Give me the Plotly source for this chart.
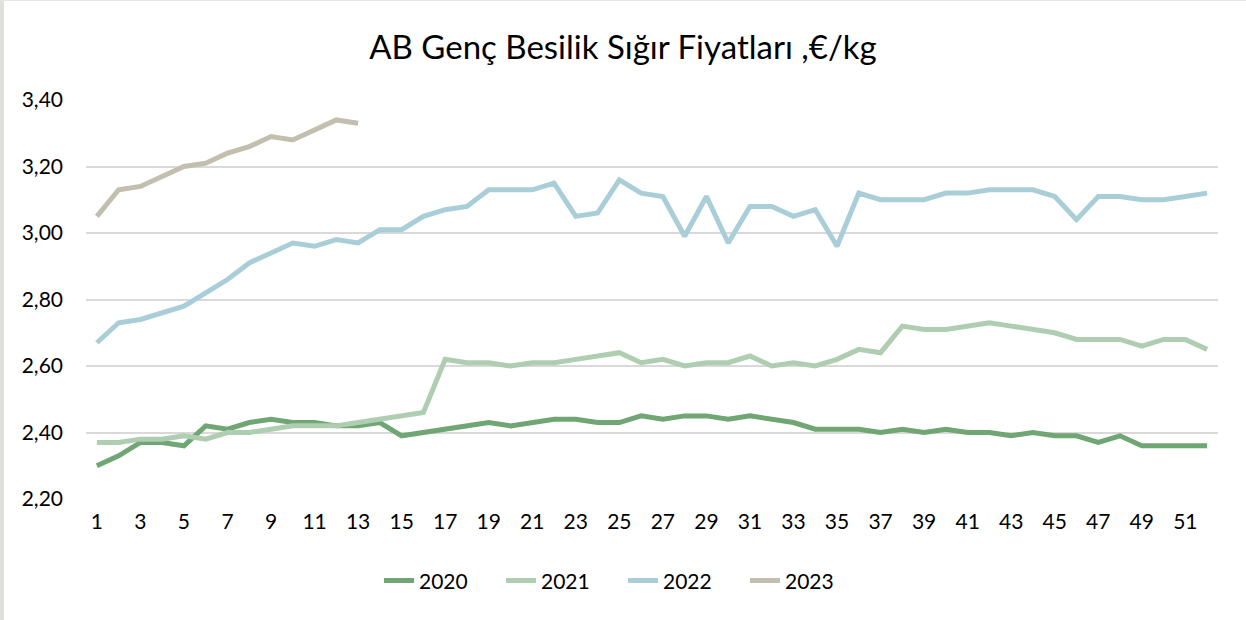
import plotly.graph_objects as go

# Weekly EU young cattle prices, €/kg
weeks = list(range(1, 53))

price_2020 = [2.30, 2.33, 2.37, 2.37, 2.36, 2.42, 2.41, 2.43, 2.44, 2.43,
              2.43, 2.42, 2.42, 2.43, 2.39, 2.40, 2.41, 2.42, 2.43, 2.42,
              2.43, 2.44, 2.44, 2.43, 2.43, 2.45, 2.44, 2.45, 2.45, 2.44,
              2.45, 2.44, 2.43, 2.41, 2.41, 2.41, 2.40, 2.41, 2.40, 2.41,
              2.40, 2.40, 2.39, 2.40, 2.39, 2.39, 2.37, 2.39, 2.36, 2.36,
              2.36, 2.36]

price_2021 = [2.37, 2.37, 2.38, 2.38, 2.39, 2.38, 2.40, 2.40, 2.41, 2.42,
              2.42, 2.42, 2.43, 2.44, 2.45, 2.46, 2.62, 2.61, 2.61, 2.60,
              2.61, 2.61, 2.62, 2.63, 2.64, 2.61, 2.62, 2.60, 2.61, 2.61,
              2.63, 2.60, 2.61, 2.60, 2.62, 2.65, 2.64, 2.72, 2.71, 2.71,
              2.72, 2.73, 2.72, 2.71, 2.70, 2.68, 2.68, 2.68, 2.66, 2.68,
              2.68, 2.65]

price_2022 = [2.67, 2.73, 2.74, 2.76, 2.78, 2.82, 2.86, 2.91, 2.94, 2.97,
              2.96, 2.98, 2.97, 3.01, 3.01, 3.05, 3.07, 3.08, 3.13, 3.13,
              3.13, 3.15, 3.05, 3.06, 3.16, 3.12, 3.11, 2.99, 3.11, 2.97,
              3.08, 3.08, 3.05, 3.07, 2.96, 3.12, 3.10, 3.10, 3.10, 3.12,
              3.12, 3.13, 3.13, 3.13, 3.11, 3.04, 3.11, 3.11, 3.10, 3.10,
              3.11, 3.12]

price_2023 = [3.05, 3.13, 3.14, 3.17, 3.20, 3.21, 3.24, 3.26, 3.29, 3.28,
              3.31, 3.34, 3.33]

series_names = ["2020", "2021", "2022", "2023"]
series_colors = ["#70a574", "#afcdb0", "#a9ced8", "#c2bfae"]
series_values = [price_2020, price_2021, price_2022, price_2023]

x_tick_vals = list(range(1, 53, 2))
x_tick_text = [str(v) for v in x_tick_vals]
y_tick_vals = [2.20, 2.40, 2.60, 2.80, 3.00, 3.20, 3.40]
y_tick_text = ["2,20", "2,40", "2,60", "2,80", "3,00", "3,20", "3,40"]

FONT = "Lato, 'Open Sans', sans-serif"

fig = go.Figure()
for name, color, vals in zip(series_names, series_colors, series_values):
    fig.add_trace(go.Scatter(
        x=weeks[:len(vals)], y=vals, name=name, mode="lines",
        line=dict(color=color, width=5),
    ))

W, H = 1246, 620
L, R, T, B = 86, 28, 100, 121
plot_w = W - L - R
page_center = (W / 2 - L) / plot_w

fig.update_layout(
    width=W, height=H,
    margin=dict(l=L, r=R, t=T, b=B, autoexpand=False),
    paper_bgcolor="white", plot_bgcolor="white",
    font=dict(family=FONT, size=21, color="#000000"),
    title=dict(text="AB Genç Besilik Sığır Fiyatları ,€/kg",
               x=0.5, xref="container", xanchor="center",
               y=1 - 47 / H, yanchor="middle",
               font=dict(family=FONT, size=33, color="#000000")),
    xaxis=dict(range=[0.5, 52.5], tickvals=x_tick_vals, ticktext=x_tick_text,
               tickangle=0, showgrid=False, zeroline=False, showline=False,
               ticks="", ticklabelstandoff=8, fixedrange=True),
    yaxis=dict(range=[2.20, 3.40], tickvals=y_tick_vals, ticktext=y_tick_text,
               showgrid=True, gridcolor="#d9d9d9", gridwidth=1.5,
               zeroline=False, showline=False, ticks="",
               ticklabelstandoff=22, fixedrange=True),
    showlegend=True,
    legend=dict(orientation="h", x=page_center, xanchor="center",
                y=-0.205, yanchor="middle", font=dict(family=FONT, size=21),
                itemwidth=30, entrywidth=77, traceorder="normal"),
    shapes=[
        # light frame on the left edge and top of the chart area
        dict(type="rect", xref="paper", yref="paper",
             x0=(0 - L) / plot_w, x1=(4 - L) / plot_w,
             y0=-B / (H - T - B), y1=(H - B) / (H - T - B),
             fillcolor="#e0e0db", line=dict(width=0), layer="below"),
        dict(type="line", xref="paper", yref="paper",
             x0=(0 - L) / plot_w, x1=(W - L) / plot_w,
             y0=(H - B - 0.5) / (H - T - B), y1=(H - B - 0.5) / (H - T - B),
             line=dict(color="#e6e6e6", width=1), layer="below"),
    ],
)

fig.write_html("out.html")
